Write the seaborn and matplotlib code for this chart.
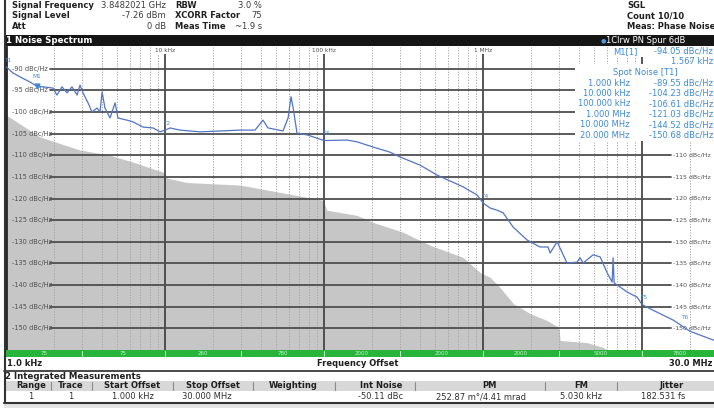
import matplotlib
matplotlib.use("Agg")
import matplotlib.pyplot as plt
from matplotlib.patches import Rectangle
from matplotlib.lines import Line2D
import pandas as pd
import seaborn as sns

# ---------------------------------------------------------------- data
# measured single-sideband phase noise (offset in Hz, level in dBc/Hz)
trace_offset_hz = [
    1000, 1107, 1225, 1415, 1567, 1710, 1975, 2090, 2250, 2420,
    2600, 2800, 2920, 3050, 3280, 3470, 3740, 3900, 4020, 4190,
    4510, 4850, 5060, 5770, 6290, 7270, 8410, 9300, 10000, 10750,
    12400, 16600, 22200, 29600, 36800, 41300, 44400, 55200, 59400, 62000,
    63800, 67600, 78200, 100000, 139500, 161000, 203000, 260000, 300000, 402000,
    514000, 748000, 917000, 1000000, 1107000, 1224000, 1336000, 1545000, 1892000, 2280000,
    2560000, 2640000, 2920000, 3370000, 3900000, 4070000, 4260000, 4920000, 5450000, 6030000,
    6480000, 6570000, 6670000, 8050000, 9310000, 10000000, 11700000, 15700000, 20000000, 28000000,
    30000000,
]
trace_level_dbc = [
    -89.55, -91.0, -91.9, -93.1, -94.05, -94.2, -94.5, -96.1, -94.2, -95.6,
    -94.2, -96.1, -93.8, -95.6, -97.9, -100.0, -99.1, -100.0, -95.4, -99.1,
    -101.4, -97.9, -101.4, -101.9, -102.3, -103.5, -103.7, -104.6, -104.23, -103.7,
    -104.2, -104.6, -104.4, -104.2, -104.2, -101.9, -103.7, -104.4, -101.4, -96.5,
    -98.9, -104.9, -105.3, -106.61, -106.5, -106.9, -108.1, -109.3, -110.4, -112.3,
    -114.6, -117.3, -119.2, -121.03, -122.2, -122.7, -123.3, -126.6, -129.6, -131.2,
    -131.2, -132.6, -130.0, -134.9, -134.7, -133.7, -134.9, -133.0, -133.5, -137.2,
    -139.3, -133.7, -139.5, -141.6, -142.8, -144.52, -145.8, -148.1, -150.68, -152.7,
    -153.0,
]

# cross-correlation sensitivity floor
floor_offset_hz = [
    1000, 1640, 2920, 4510, 6290, 9700, 10300, 13700, 29600, 67600,
    98600, 104000, 161000, 203000, 314000, 464000, 748000, 957000, 1107000, 1280000,
    1550000, 1980000, 2530000, 3000000, 3050000, 4510000, 5690000, 6300000,
]
floor_level_dbc = [
    -100.7, -105.8, -108.8, -110.0, -111.6, -113.9, -115.3, -116.3, -116.9, -119.3,
    -120.4, -122.7, -123.9, -125.5, -127.8, -130.8, -133.6, -137.1, -138.2, -140.6,
    -144.3, -146.6, -148.2, -149.8, -152.8, -153.3, -154.4, -155.6,
]

# spot noise markers
spot_offset_hz = [1e3, 1e4, 1e5, 1e6, 1e7, 2e7]
spot_level_dbc = [-89.55, -104.23, -106.61, -121.03, -144.52, -150.68]
spot_freq_text = ["1.000 kHz", "10.000 kHz", "100.000 kHz", "1.000 MHz", "10.000 MHz", "20.000 MHz"]
spot_names = ["T1", "T2", "T3", "T4", "T5", "T6"]

marker_offset_hz = 1567
marker_level_dbc = -94.05

level_ticks = [-90, -95, -100, -105, -110, -115, -120, -125, -130, -135, -140, -145, -150]
decade_ticks = [1e4, 1e5, 1e6, 1e7]
decade_text = ["10 kHz", "100 kHz", "1 MHz"]

# XCORR averages per offset range
range_edges_hz = [1e3, 3e3, 1e4, 3e4, 1e5, 3e5, 1e6, 3e6, 1e7, 3e7]
range_xcorr = [75, 75, 260, 780, 2000, 2000, 2000, 5000, 7800]

setup_left = [("Signal Frequency", "3.8482021 GHz"), ("Signal Level", "-7.26 dBm"), ("Att", "0 dB")]
setup_mid = [("RBW", "3.0 %"), ("XCORR Factor", "75"), ("Meas Time", "~1.9 s")]
setup_right = ["SGL", "Count 10/10", "Meas: Phase Noise"]

table_columns = ["Range", "Trace", "Start Offset", "Stop Offset", "Weighting",
                 "Int Noise", "PM", "FM", "Jitter"]
table_values = ["1", "1", "1.000 kHz", "30.000 MHz", "", "-50.11 dBc",
                "252.87 m\u00b0/4.41 mrad", "5.030 kHz", "182.531 fs"]

# ---------------------------------------------------------------- style
sns.set_style("white")
plt.rcParams["font.family"] = ["DejaVu Sans"]

W, H = 714, 408
fig = plt.figure(figsize=(W / 100, H / 100), dpi=100)
fig.patch.set_facecolor("white")


def fx(px):
    return px / W


def fy(py):
    return 1 - py / H


def put(px, py, s, **kw):
    kw.setdefault("va", "center")
    return fig.text(fx(px), fy(py), s, **kw)


def box(x0, y0, x1, y1, **kw):
    fig.add_artist(Rectangle((fx(x0), fy(y1)), (x1 - x0) / W, (y1 - y0) / H,
                             transform=fig.transFigure, **kw))


def hline(x0, x1, py, **kw):
    fig.add_artist(Line2D([fx(x0), fx(x1)], [fy(py), fy(py)], transform=fig.transFigure, **kw))


def vline(px, y0, y1, **kw):
    fig.add_artist(Line2D([fx(px), fx(px)], [fy(y0), fy(y1)], transform=fig.transFigure, **kw))


TRACE_BLUE = "#5274c4"
MARK_BLUE = "#3d8ad6"
GRID_DARK = "#4e4e4e"

# ---------------------------------------------------------------- spectrum
L, R, T, B = 6, 718, 47, 350
ax = fig.add_axes([fx(L), fy(B), (R - L) / W, (B - T) / H])
ax.set_xscale("log")
ax.set_xlim(1e3, 3e7)
ax.set_ylim(-155, -85)
ax.set_facecolor("white")

ax.fill_between(floor_offset_hz, floor_level_dbc, -160, color="#c6c6c6", lw=0, zorder=1)

for dec in [1e3, 1e4, 1e5, 1e6, 1e7]:
    for k in range(2, 10):
        f = k * dec
        if f < 3e7:
            ax.axvline(f, color="#a2a2a2", lw=0.7, ls=(0, (1.2, 1.6)), zorder=2)
for f in decade_ticks:
    ax.axvline(f, color="#3a3a3a", lw=1.2, zorder=2)

gx0 = (50 - L) / (R - L)
gx1 = (671 - L) / (R - L)
for lv in level_ticks:
    ax.axhline(lv, xmin=gx0, xmax=gx1, color=GRID_DARK, lw=1.3, zorder=2)
    ax.text(0.009, lv, f"{lv} dBc/Hz", transform=ax.get_yaxis_transform(),
            fontsize=4.8, color="#505050", va="center", ha="left", zorder=3)
    if lv <= -110:
        ax.text((673 - L) / (R - L), lv, f"{lv} dBc/Hz", transform=ax.get_yaxis_transform(),
                fontsize=4.5, color="#505050", va="center", ha="left", zorder=3)

for f, s in zip(decade_ticks, decade_text):
    ax.text(f, -85.75, s, fontsize=4.2, color="#505050", ha="center", va="center", zorder=3,
            bbox=dict(boxstyle="square,pad=0.25", fc="white", ec="none"))

trace_df = pd.DataFrame({"offset": trace_offset_hz, "level": trace_level_dbc})
sns.lineplot(data=trace_df, x="offset", y="level", ax=ax, color=TRACE_BLUE, lw=0.9,
             sort=False, estimator=None, zorder=4)
ax.set_xlabel("")
ax.set_ylabel("")
ax.tick_params(which="both", bottom=False, left=False, labelbottom=False, labelleft=False)
for side in ["top", "right", "bottom"]:
    ax.spines[side].set_visible(False)
ax.spines["left"].set_color("#262626")
ax.spines["left"].set_linewidth(2.0)

# marker M1 and spot-noise markers on the trace
ax.plot([marker_offset_hz], [marker_level_dbc], marker="v", ms=3.5, color=MARK_BLUE, zorder=5)
ax.annotate("M1", (marker_offset_hz, marker_level_dbc), xytext=(0, 5), textcoords="offset points",
            fontsize=4.2, color=MARK_BLUE, ha="center", va="bottom", zorder=5)
label_shift = [(1, 3), (1, 3), (1, 3), (1, 3), (1, 3), (-4, 8)]
for f, lv, nm, sh in zip(spot_offset_hz, spot_level_dbc, spot_names, label_shift):
    ax.annotate(nm, (f, lv), xytext=sh, textcoords="offset points",
                fontsize=4.2, color=MARK_BLUE, ha="center", va="bottom", zorder=5,
                annotation_clip=False, clip_on=True)

# marker readout
box(575, 64, 714, 141, facecolor="white", edgecolor="none")
box(608, 47, 714, 57, facecolor="white", edgecolor="none")
mk = dict(fontsize=6.0, color=MARK_BLUE)
put(613, 51.5, "M1[1]", ha="left", **mk)
put(713, 51.5, f"{marker_level_dbc:.2f} dBc/Hz", ha="right", **mk)
put(713, 62, f"{marker_offset_hz / 1000:.3f} kHz", ha="right", **mk)
put(645, 72.5, "Spot Noise [T1]", ha="center", **mk)
for i, (fs, lv) in enumerate(zip(spot_freq_text, spot_level_dbc)):
    yy = 83 + i * 10.4
    put(630, yy, fs, ha="right", **mk)
    put(713, yy, f"{lv:.2f} dBc/Hz", ha="right", **mk)

# ---------------------------------------------------------------- header
hdr_b = dict(fontsize=6.0, fontweight="bold", color="#202020")
hdr_v = dict(fontsize=6.0, color="#3c3c3c")
for i, (lab, val) in enumerate(setup_left):
    yy = 5.5 + i * 10.5
    put(12, yy, lab, ha="left", **hdr_b)
    put(166, yy, val, ha="right", **hdr_v)
for i, (lab, val) in enumerate(setup_mid):
    yy = 5.5 + i * 10.5
    put(175, yy, lab, ha="left", **hdr_b)
    put(262, yy, val, ha="right", **hdr_v)
for i, s in enumerate(setup_right):
    put(627, 5.5 + i * 10.5, s, ha="left", **hdr_b)

box(4, 35, 714, 46, facecolor="#151515", edgecolor="none")
put(6, 40.5, "1 Noise Spectrum", ha="left", fontsize=6.2, fontweight="bold", color="white")
put(603, 40.5, "\u25cf", ha="center", fontsize=4.5, color="#4a9be0")
put(606, 40.5, "1Clrw PN Spur 6dB", ha="left", fontsize=6.0, color="white")

vline(4.5, 0, 403, color="#333333", lw=1.5)

# ---------------------------------------------------------------- range bar
gax = fig.add_axes([fx(L), fy(357), (R - L) / W, 7 / H])
gax.set_xscale("log")
gax.set_xlim(1e3, 3e7)
gax.set_ylim(0, 1)
gax.axvspan(1e3, 3e7, color="#26b53a", lw=0)
for lo, hi, n in zip(range_edges_hz[:-1], range_edges_hz[1:], range_xcorr):
    gax.text((lo * hi) ** 0.5, 0.5, str(n), fontsize=4.0, color="#c9f2cc", ha="center", va="center")
for e in range_edges_hz[1:-1]:
    gax.plot([e, e], [0.15, 0.85], color="#bfeec3", lw=0.7)
gax.axis("off")

put(7, 363.5, "1.0 kHz", ha="left", fontsize=6.0, fontweight="bold", color="#202020")
put(358, 363.5, "Frequency Offset", ha="center", fontsize=6.0, fontweight="bold", color="#202020")
put(712, 363.5, "30.0 MHz", ha="right", fontsize=6.0, fontweight="bold", color="#202020")
hline(4, 714, 370.5, color="#3a3a3a", lw=1.3)

# ---------------------------------------------------------------- integrated measurements
put(5, 376.5, "2 Integrated Measurements", ha="left", fontsize=6.2, fontweight="bold", color="#202020")
box(5, 381, 714, 391, facecolor="#d8d8d8", edgecolor="none")
col_center = [31, 71, 132, 213, 293, 381, 489, 581, 672]
col_sep = [51, 92, 173, 253, 335, 415, 545, 617]
for cx, name in zip(col_center, table_columns):
    put(cx, 386, name, ha="center", fontsize=6.0, fontweight="bold", color="#202020")
for sx in col_sep:
    vline(sx, 382, 390, color="#8a8a8a", lw=0.8)
val_center = [31, 71, 133, 207, 293, 381, 481, 581, 663]
for cx, v in zip(val_center, table_values):
    put(cx, 396.5, v, ha="center", fontsize=6.0, color="#303030")
hline(4, 714, 402.5, color="#333333", lw=1.5)
box(4, 403, 714, 408, facecolor="#e4e4e4", edgecolor="none")

fig.savefig("out.png", dpi=100)
